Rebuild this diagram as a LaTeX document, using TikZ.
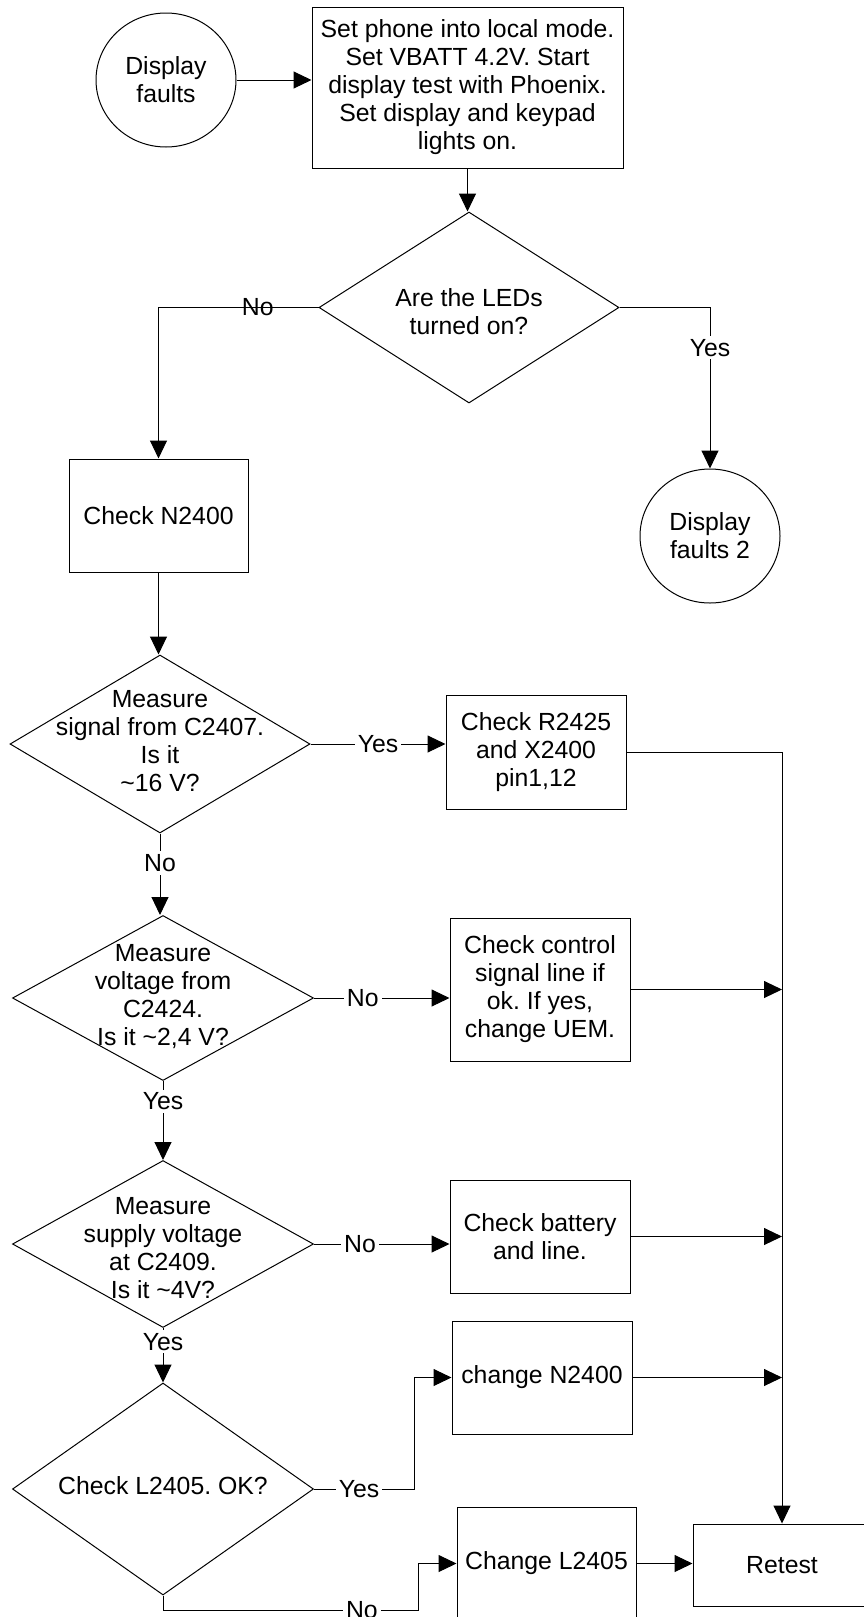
\documentclass[tikz,border=0pt]{standalone}
\usepackage{fontspec}
\setmainfont{Liberation Sans}
\frenchspacing
\usetikzlibrary{arrows.meta,shapes.geometric}
\newcommand{\dtext}[2][-3pt]{\smash{\makebox[0pt]{\raisebox{#1}{\begin{tabular}{@{}c@{}}#2\end{tabular}}}}}

\begin{document}
\begin{tikzpicture}[x=0.5pt, y=-0.5pt, line width=0.5pt,
	every node/.style={font=\fontsize{12.4}{14}\selectfont},
	procbox/.style={draw, rectangle, align=center, inner sep=2pt, minimum width=90pt, minimum height=56.5pt},
	decision/.style={draw, diamond, inner sep=0pt},
	terminal/.style={draw, ellipse, align=center, inner sep=0pt, minimum width=70pt, minimum height=67pt},
	flow/.style={-{Triangle[length=9pt, width=8.5pt]}},
	lbl/.style={fill=white, inner sep=1.5pt}]
		%%%%% START %%%%%
		\useasboundingbox (0,0) rectangle (863,1617);
		
		\node[terminal] (start) at (166,80) {Display\\faults};
		\node[procbox, minimum width=155.5pt, minimum height=80.5pt] (setup) at (467.5,87.5) {Set phone into local mode.\\Set VBATT 4.2V. Start\\display test with Phoenix.\\Set display and keypad\\lights on.};
		\node[decision, minimum width=150pt, minimum height=95.5pt] (leds) at (469,307.5) {\dtext[-6.5pt]{Are the LEDs\\turned on?}};
		\node[procbox, minimum width=89.5pt] (chkn) at (158.5,515.5) {Check N2400};
		\node[terminal] (faults2) at (710,536) {Display\\faults 2};
		
		\node[decision, minimum width=150pt, minimum height=89pt] (c2407) at (160,744) {\dtext{Measure\\signal from C2407.\\Is it\\\textasciitilde{}16 V?}};
		\node[procbox, minimum height=57pt] (chkr) at (536,752) {Check R2425\\and X2400\\pin1,12};
		
		\node[decision, minimum width=150.5pt, minimum height=82.5pt] (c2424) at (163,998) {\dtext{Measure\\voltage from\\C2424.\\Is it \textasciitilde{}2,4 V?}};
		\node[procbox, minimum height=71.5pt] (ctrl) at (540,989.5) {Check control\\signal line if\\ok. If yes,\\change UEM.};
		
		\node[decision, minimum width=150.5pt, minimum height=83.5pt] (c2409) at (163,1244) {\dtext[-6.5pt]{Measure\\supply voltage\\at C2409.\\Is it \textasciitilde{}4V?}};
		\node[procbox] (batt) at (540,1236.5) {Check battery\\and line.};
		
		\node[decision, minimum width=150.5pt, minimum height=106pt] (l2405) at (163,1489) {\dtext{Check L2405. OK?}};
		\node[procbox] (chgn) at (542,1377.5) {change N2400};
		\node[procbox, minimum width=89.5pt] (chgl) at (546.5,1563.5) {Change L2405};
		\node[procbox, minimum width=89pt, minimum height=41pt] (retest) at (782,1565) {Retest};
		\coordinate (nobend) at (418,1610);
		
		\draw[flow] (start.east) -- (start.east -| setup.west);
		\draw[flow] (setup.south) -- (setup.south |- leds.north);
		\draw[flow] (leds.west) -| node[pos=0.19, inner sep=0pt] {No} (chkn.north);
		\draw[flow] (leds.east) -| node[pos=0.625, lbl] {Yes} (faults2.north);
		\draw[flow] (chkn.south) -- (chkn.south |- c2407.north);
		
		\draw[flow] (c2407.east) -- node[lbl] {Yes} (c2407.east -| chkr.west);
		\draw[flow] (chkr.east) -| (retest.north);
		\draw[flow] (c2407.south) -- node[pos=0.36, lbl] {No} (c2407.south |- c2424.north);
		
		\draw[flow] (c2424.east) -- node[pos=0.36, lbl] {No} (c2424.east -| ctrl.west);
		\draw[flow] (ctrl.east) -- (ctrl.east -| retest.north);
		\draw[flow] (c2424.south) -- node[pos=0.26, lbl] {Yes} (c2424.south |- c2409.north);
		
		\draw[flow] (c2409.east) -- node[pos=0.34, lbl] {No} (c2409.east -| batt.west);
		\draw[flow] (batt.east) -- (batt.east -| retest.north);
		\draw[flow] (c2409.south) -- node[pos=0.25, lbl] {Yes} (c2409.south |- l2405.north);
		
		\draw[flow] (l2405.east) -- node[pos=0.45, lbl] {Yes} ++(100,0) |- (chgn.west);
		\draw[flow] (chgn.east) -- (chgn.east -| retest.north);
		\draw[flow] (l2405.south) |- node[pos=0.89, lbl] {No} (nobend) |- (chgl.west);
		\draw[flow] (chgl.east) -- (chgl.east -| retest.west);
		%%%%% END %%%%%
\end{tikzpicture}
\end{document}
